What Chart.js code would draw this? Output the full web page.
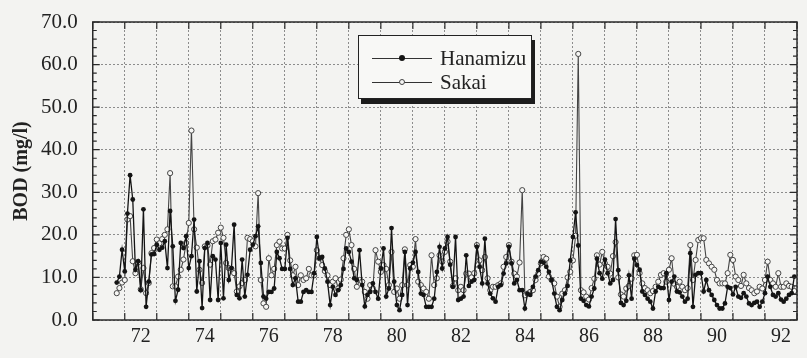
<!DOCTYPE html>
<html>
<head>
<meta charset="utf-8">
<script src="https://cdn.jsdelivr.net/npm/chart.js@4.4.1/dist/chart.umd.min.js"></script>
<style>
  html, body { margin: 0; padding: 0; background: #f3f3f1; }
  #wrap { position: relative; width: 807px; height: 358px; }
  #legend {
    position: absolute; left: 358px; top: 35px; width: 172px; height: 62px;
    border: 1.5px solid #222; background: #f8f8f6; box-shadow: 3px 5px 0 #1c1c1c;
    font-family: "Liberation Serif", serif; font-size: 21px; color: #222;
  }
  #legend .row { position: absolute; left: 13px; height: 22px; display: flex; align-items: center; }
  #legend .sample { position: relative; width: 60px; height: 22px; margin-right: 8px; }
  #legend .ln { position: absolute; left: 0; right: 0; top: 11px; border-top: 1px solid #333; }
  #legend .dot { position: absolute; left: 27px; top: 8px; width: 6px; height: 6px; border-radius: 50%; box-sizing: border-box; }
</style>
</head>
<body>
<div id="wrap">
  <canvas id="bodChart" width="807" height="358"></canvas>
  <div id="legend"></div>
</div>
<script>
  // monthly BOD readings, starting October 1971
  const startYear = 1971;
  const startMonth = 9; // 0 = January
  const xTickLabels = ['72', '74', '76', '78', '80', '82', '84', '86', '88', '90', '92'];
  const yTicks = [0, 10, 20, 30, 40, 50, 60, 70];

  const hanamizu = [
    8.8, 10.2, 16.5,
    11.4, 25, 34, 28.3, 11.8, 13.8, 7, 26, 3.1, 9, 15.4, 15.5,
    17.7, 16.5, 17, 18.5, 12.2, 25.6, 17.3, 4.5, 7.1, 18.1, 16.9, 19.7,
    12.2, 15, 23.6, 6.7, 13.8, 2.8, 16.9, 18.1, 4.7, 15, 14.2, 4.7,
    18.1, 5.1, 17.7, 9.4, 12.2, 22.4, 5.9, 5.1, 14.2, 5.5, 10.6, 16.5,
    17.7, 19.7, 22, 13.4, 5.5, 5, 6.6, 6.6, 7.4, 16, 14.5, 12,
    12, 19.3, 12, 8.2, 9.8, 4.3, 4.3, 6.6, 7, 6.6, 6.6, 11,
    19.5, 14.5, 14.8, 12.1, 9, 3.5, 7.8, 5.9, 7, 8.2, 12, 16.8,
    16, 13.7, 9.8, 9.4, 16.4, 8.2, 3.2, 5.9, 6.6, 8.6, 6.6, 5,
    12.1, 16.8, 5.5, 7.4, 21.6, 9, 3.5, 2.3, 5.9, 16, 3.5, 12.1,
    13.5, 16, 11.3, 6.2, 5.9, 3.1, 3.1, 3.1, 5, 11.3, 17.2, 12.1,
    16.8, 19.5, 13, 7.8, 19.5, 4.7, 5, 5.5, 15.2, 8, 9, 9.4,
    17.2, 12.5, 8.6, 19.1, 8.6, 6.2, 5.1, 4.3, 7.8, 8.2, 10.9, 13.3,
    17.2, 13.3, 8.6, 9.4, 7, 7, 2.7, 6.2, 5.9, 7.8, 10.2, 11.7,
    13.7, 13.5, 12.5, 11.3, 9.4, 6.2, 3.1, 2.3, 4.7, 6.2, 8, 14,
    19.5, 25.3, 17.5, 5, 4.5, 3.5, 3.2, 5.5, 7.4, 14.4, 11, 9.7,
    14.2, 11, 8.6, 9.4, 23.7, 11.7, 4, 3.5, 4.5, 10.5, 5, 14.4,
    12.9, 11.8, 6.7, 5.9, 5, 4.3, 2.7, 6.7, 7.8, 7.5, 7.5, 11,
    4.7, 9, 10.2, 6.7, 6.5, 5.5, 4.3, 5, 15.7, 3.1, 10.6, 11,
    11, 6.7, 9.4, 7, 5.9, 4.7, 3.5, 2.7, 2.7, 3.9, 7.8, 7.5,
    6, 7.8, 5.5, 5.2, 6.3, 5.5, 3.9, 3.5, 4, 4.3, 3.1, 4.3,
    6.3, 10.2, 7.8, 5.9, 5.5, 6.3, 4.8, 4.3, 5, 5.9, 6.3, 10.2
  ];

  const sakai = [
    6.3, 7.5, 8.8,
    9.4, 23.6, 24.4, 13.8, 11, 13.5, 7.2, 12.2, 6.3, 8.7, 15.7, 16.9,
    18.9, 18, 19, 20, 21.3, 34.5, 7.9, 7.9, 10.2, 11.8, 14.2, 18.1,
    22.8, 44.5, 21.3, 17, 11.8, 8.7, 17.3, 17.5, 13, 18.5, 18.9, 20.5,
    21.7, 19.3, 13.4, 12.2, 12, 11, 6.7, 7.9, 8.7, 9.4, 19.3, 19,
    18.5, 17.3, 29.8, 9.4, 3.9, 3.1, 14.5, 10.5, 12, 17.6, 18.4, 16.8,
    16.8, 20, 14, 10.5, 12.5, 8.2, 10.5, 9.4, 9.8, 12, 10.5, 10.5,
    16.4, 14.5, 12.9, 11.5, 10.5, 8.2, 9, 9.8, 7.4, 9.5, 14.5, 20,
    21.3, 17.6, 12, 7.8, 9.4, 9, 6.6, 5, 8.2, 7.4, 16.4, 13.7,
    11.3, 12.9, 12, 8.2, 16, 6.6, 7.4, 5, 8.2, 16.6, 8.2, 12.9,
    12.5, 19, 9, 8.2, 7.4, 6.6, 5, 15.2, 8.2, 9.8, 15.2, 13.7,
    16, 18.4, 13.7, 8, 9.8, 7, 7.8, 7, 10.9, 10.9, 10, 11,
    17.6, 14, 11.7, 14.8, 9.8, 7, 7.8, 7.8, 8.2, 8.6, 12.5, 14.8,
    17.6, 13.7, 10.9, 10.2, 13.5, 30.5, 5.8, 6.2, 6.6, 7, 9.4, 10.9,
    13.3, 14.8, 14.4, 10.2, 9.4, 8.6, 5.5, 3.1, 6.2, 7, 10, 11.3,
    14, 19.8, 62.5, 7, 6.5, 5.5, 4.8, 7.5, 9.7, 15.2, 13, 16,
    13.3, 12.5, 10.9, 15, 18.3, 10, 6, 5.5, 7.4, 8, 9.7, 15.2,
    15.3, 11, 8.6, 7.5, 7, 6.3, 6.8, 7.8, 9, 10.6, 11, 9,
    11.8, 14.5, 8.5, 7.8, 9, 7.8, 7, 7.5, 17.6, 9.4, 14.1, 18.8,
    19.2, 19.2, 14.1, 13.3, 12.5, 11.8, 9.4, 8.6, 8.6, 8.6, 11, 15.3,
    14.1, 10.2, 9.4, 8, 10.6, 8.6, 7.5, 7, 6.3, 6.7, 7.8, 7.4,
    9.4, 13.7, 9.4, 8.6, 7.8, 11, 7.8, 7.8, 8.6, 8, 7.8, 6.8
  ];

  const toPoints = (arr) => arr.map((v, i) => ({ x: startYear + (startMonth + i) / 12, y: v }));

  // box round the plot with inward ticks, like the printed figure
  const frameTicks = {
    id: 'frameTicks',
    afterDraw(chart) {
      const { ctx, chartArea: a, scales: { x, y } } = chart;
      ctx.save();
      ctx.strokeStyle = '#2a2a2a';
      ctx.lineWidth = 1.5;
      ctx.strokeRect(a.left, a.top, a.right - a.left, a.bottom - a.top);
      ctx.lineWidth = 1.2;
      ctx.beginPath();
      for (let yr = x.min; yr <= x.max; yr++) {
        const px = x.getPixelForValue(yr);
        ctx.moveTo(px, a.top); ctx.lineTo(px, a.top + 7);
        ctx.moveTo(px, a.bottom); ctx.lineTo(px, a.bottom - 7);
      }
      for (let v = y.min; v <= y.max; v += 2) {
        const py = y.getPixelForValue(v);
        const len = v % 10 === 0 ? 7 : 4;
        ctx.moveTo(a.left, py); ctx.lineTo(a.left + len, py);
        ctx.moveTo(a.right, py); ctx.lineTo(a.right - len, py);
      }
      ctx.stroke();
      ctx.restore();
    }
  };

  const serif = '"Liberation Serif", "Times New Roman", serif';

  const chart = new Chart(document.getElementById('bodChart'), {
    type: 'line',
    data: {
      datasets: [{
        label: 'Hanamizu',
        data: toPoints(hanamizu),
        borderColor: '#141414',
        backgroundColor: '#141414',
        borderWidth: 1.3,
        pointRadius: 2.4,
        pointBorderWidth: 0,
        tension: 0
      }, {
        label: 'Sakai',
        data: toPoints(sakai),
        borderColor: '#444',
        backgroundColor: '#f6f6f4',
        pointBorderColor: '#444',
        borderWidth: 1.1,
        pointRadius: 2.6,
        pointBorderWidth: 1,
        tension: 0
      }]
    },
    options: {
      responsive: false,
      animation: false,
      layout: { padding: { left: 6, right: 10, top: 22, bottom: 4 } },
      plugins: {
        legend: { display: false },
        tooltip: { enabled: false }
      },
      scales: {
        x: {
          type: 'linear',
          min: 1971,
          max: 1993,
          afterBuildTicks: (scale) => {
            const t = [];
            for (let yr = 1971; yr <= 1993; yr++) t.push({ value: yr });
            scale.ticks = t;
          },
          ticks: {
            autoSkip: false,
            maxRotation: 0,
            labelOffset: 16,
            padding: 5,
            color: '#222',
            font: { family: serif, size: 20 },
            callback: (v) => xTickLabels.includes(String(v).slice(2)) ? String(v).slice(2) : ''
          },
          grid: { color: '#8c8c8c', lineWidth: 1, drawTicks: false },
          border: { display: false, dash: [2, 2] }
        },
        y: {
          min: 0,
          max: 70,
          afterBuildTicks: (scale) => { scale.ticks = yTicks.map(v => ({ value: v })); },
          ticks: {
            padding: 3,
            color: '#222',
            font: { family: serif, size: 21 },
            callback: (v) => v.toFixed(1)
          },
          grid: { color: '#8c8c8c', lineWidth: 1, drawTicks: true, tickLength: 12, tickColor: 'rgba(0,0,0,0)' },
          border: { display: false, dash: [2, 2] },
          title: {
            display: true,
            text: 'BOD (mg/l)',
            color: '#222',
            font: { family: serif, size: 20, weight: 'bold' },
            padding: { top: 4, bottom: 4 }
          }
        }
      }
    },
    plugins: [frameTicks]
  });

  // legend box with a drop shadow, filled from the datasets
  const legend = document.getElementById('legend');
  chart.data.datasets.forEach((ds, i) => {
    const row = document.createElement('div');
    row.className = 'row';
    row.style.top = (11 + i * 24) + 'px';
    const sample = document.createElement('div');
    sample.className = 'sample';
    const ln = document.createElement('div');
    ln.className = 'ln';
    const dot = document.createElement('div');
    dot.className = 'dot';
    dot.style.background = ds.backgroundColor;
    dot.style.border = i === 0 ? '0' : '1px solid #444';
    sample.appendChild(ln);
    sample.appendChild(dot);
    const txt = document.createElement('span');
    txt.textContent = ds.label;
    row.appendChild(sample);
    row.appendChild(txt);
    legend.appendChild(row);
  });
</script>
</body>
</html>
